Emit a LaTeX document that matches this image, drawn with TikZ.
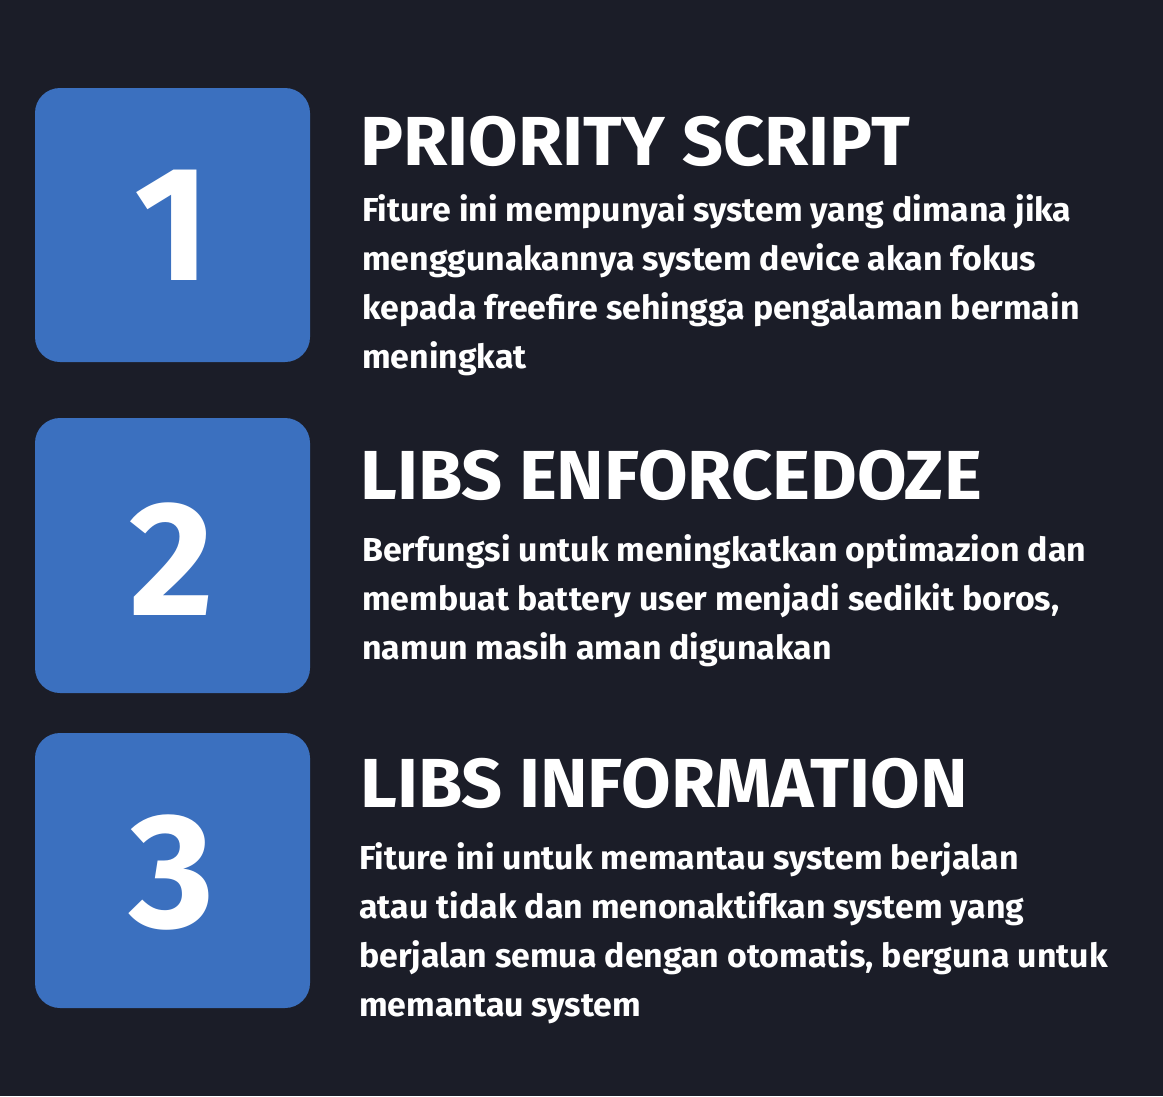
\documentclass[tikz,border=0pt]{standalone}
\usepackage{fontspec}
\setmainfont{Fira Sans}
\newfontfamily\headfont[FakeStretch=1.035]{Fira Sans}
\newfontfamily\bodyfont[FakeStretch=1.02]{Fira Sans}
\definecolor{bgdark}{HTML}{1B1D28}
\definecolor{boxblue}{HTML}{3B70BF}
\begin{document}
\begin{tikzpicture}[x=0.02cm,y=-0.02cm,
  numbox/.style={fill=boxblue,rounded corners=0.5cm},
  numtext/.style={text=white,inner sep=0pt,font=\bfseries\fontsize{93}{93}\selectfont},
  headtext/.style={text=white,inner sep=0pt,anchor=base west,font=\headfont\bfseries\fontsize{39.5}{40}\selectfont},
  bodytext/.style={text=white,inner sep=0pt,anchor=base west,align=left,font=\bodyfont\bfseries\fontsize{18.9}{27.8}\selectfont}]
\fill[bgdark] (0,0) rectangle (1163,1096);
\useasboundingbox (0,0) rectangle (1163,1096);
\fill[numbox] (35,88) rectangle (310,362);
\fill[numbox] (35,418) rectangle (310,693);
\fill[numbox] (35,733) rectangle (310,1008);
\node[numtext] (one) at (172,225){1};
\node[numtext] (two) at (172,559){2};
\node[numtext] (three) at (172,873){3};
\node[headtext] (prio) at (360,165){PRIORITY SCRIPT};
\node[headtext] (doze) at (360,499){LIBS ENFORCEDOZE};
\node[headtext] (info) at (360,807){LIBS INFORMATION};
\node[bodytext] (prioa) at (362,221){Fiture ini mempunyai system yang dimana jika};
\node[bodytext] (priob) at (362,270){menggunakannya system device akan fokus};
\node[bodytext] (prioc) at (362,319){kepada freefire sehingga pengalaman bermain};
\node[bodytext] (priod) at (362,368){meningkat};
\node[bodytext] (dozea) at (362,561){Berfungsi untuk meningkatkan optimazion dan};
\node[bodytext] (dozeb) at (362,610){membuat battery user menjadi sedikit boros,};
\node[bodytext] (dozec) at (362,659){namun masih aman digunakan};
\node[bodytext] (infoa) at (359,869){Fiture ini untuk memantau system berjalan};
\node[bodytext] (infob) at (359,918){atau tidak dan menonaktifkan system yang};
\node[bodytext] (infoc) at (359,967){berjalan semua dengan otomatis, berguna untuk};
\node[bodytext] (infod) at (359,1016){memantau system};
\end{tikzpicture}
\end{document}
